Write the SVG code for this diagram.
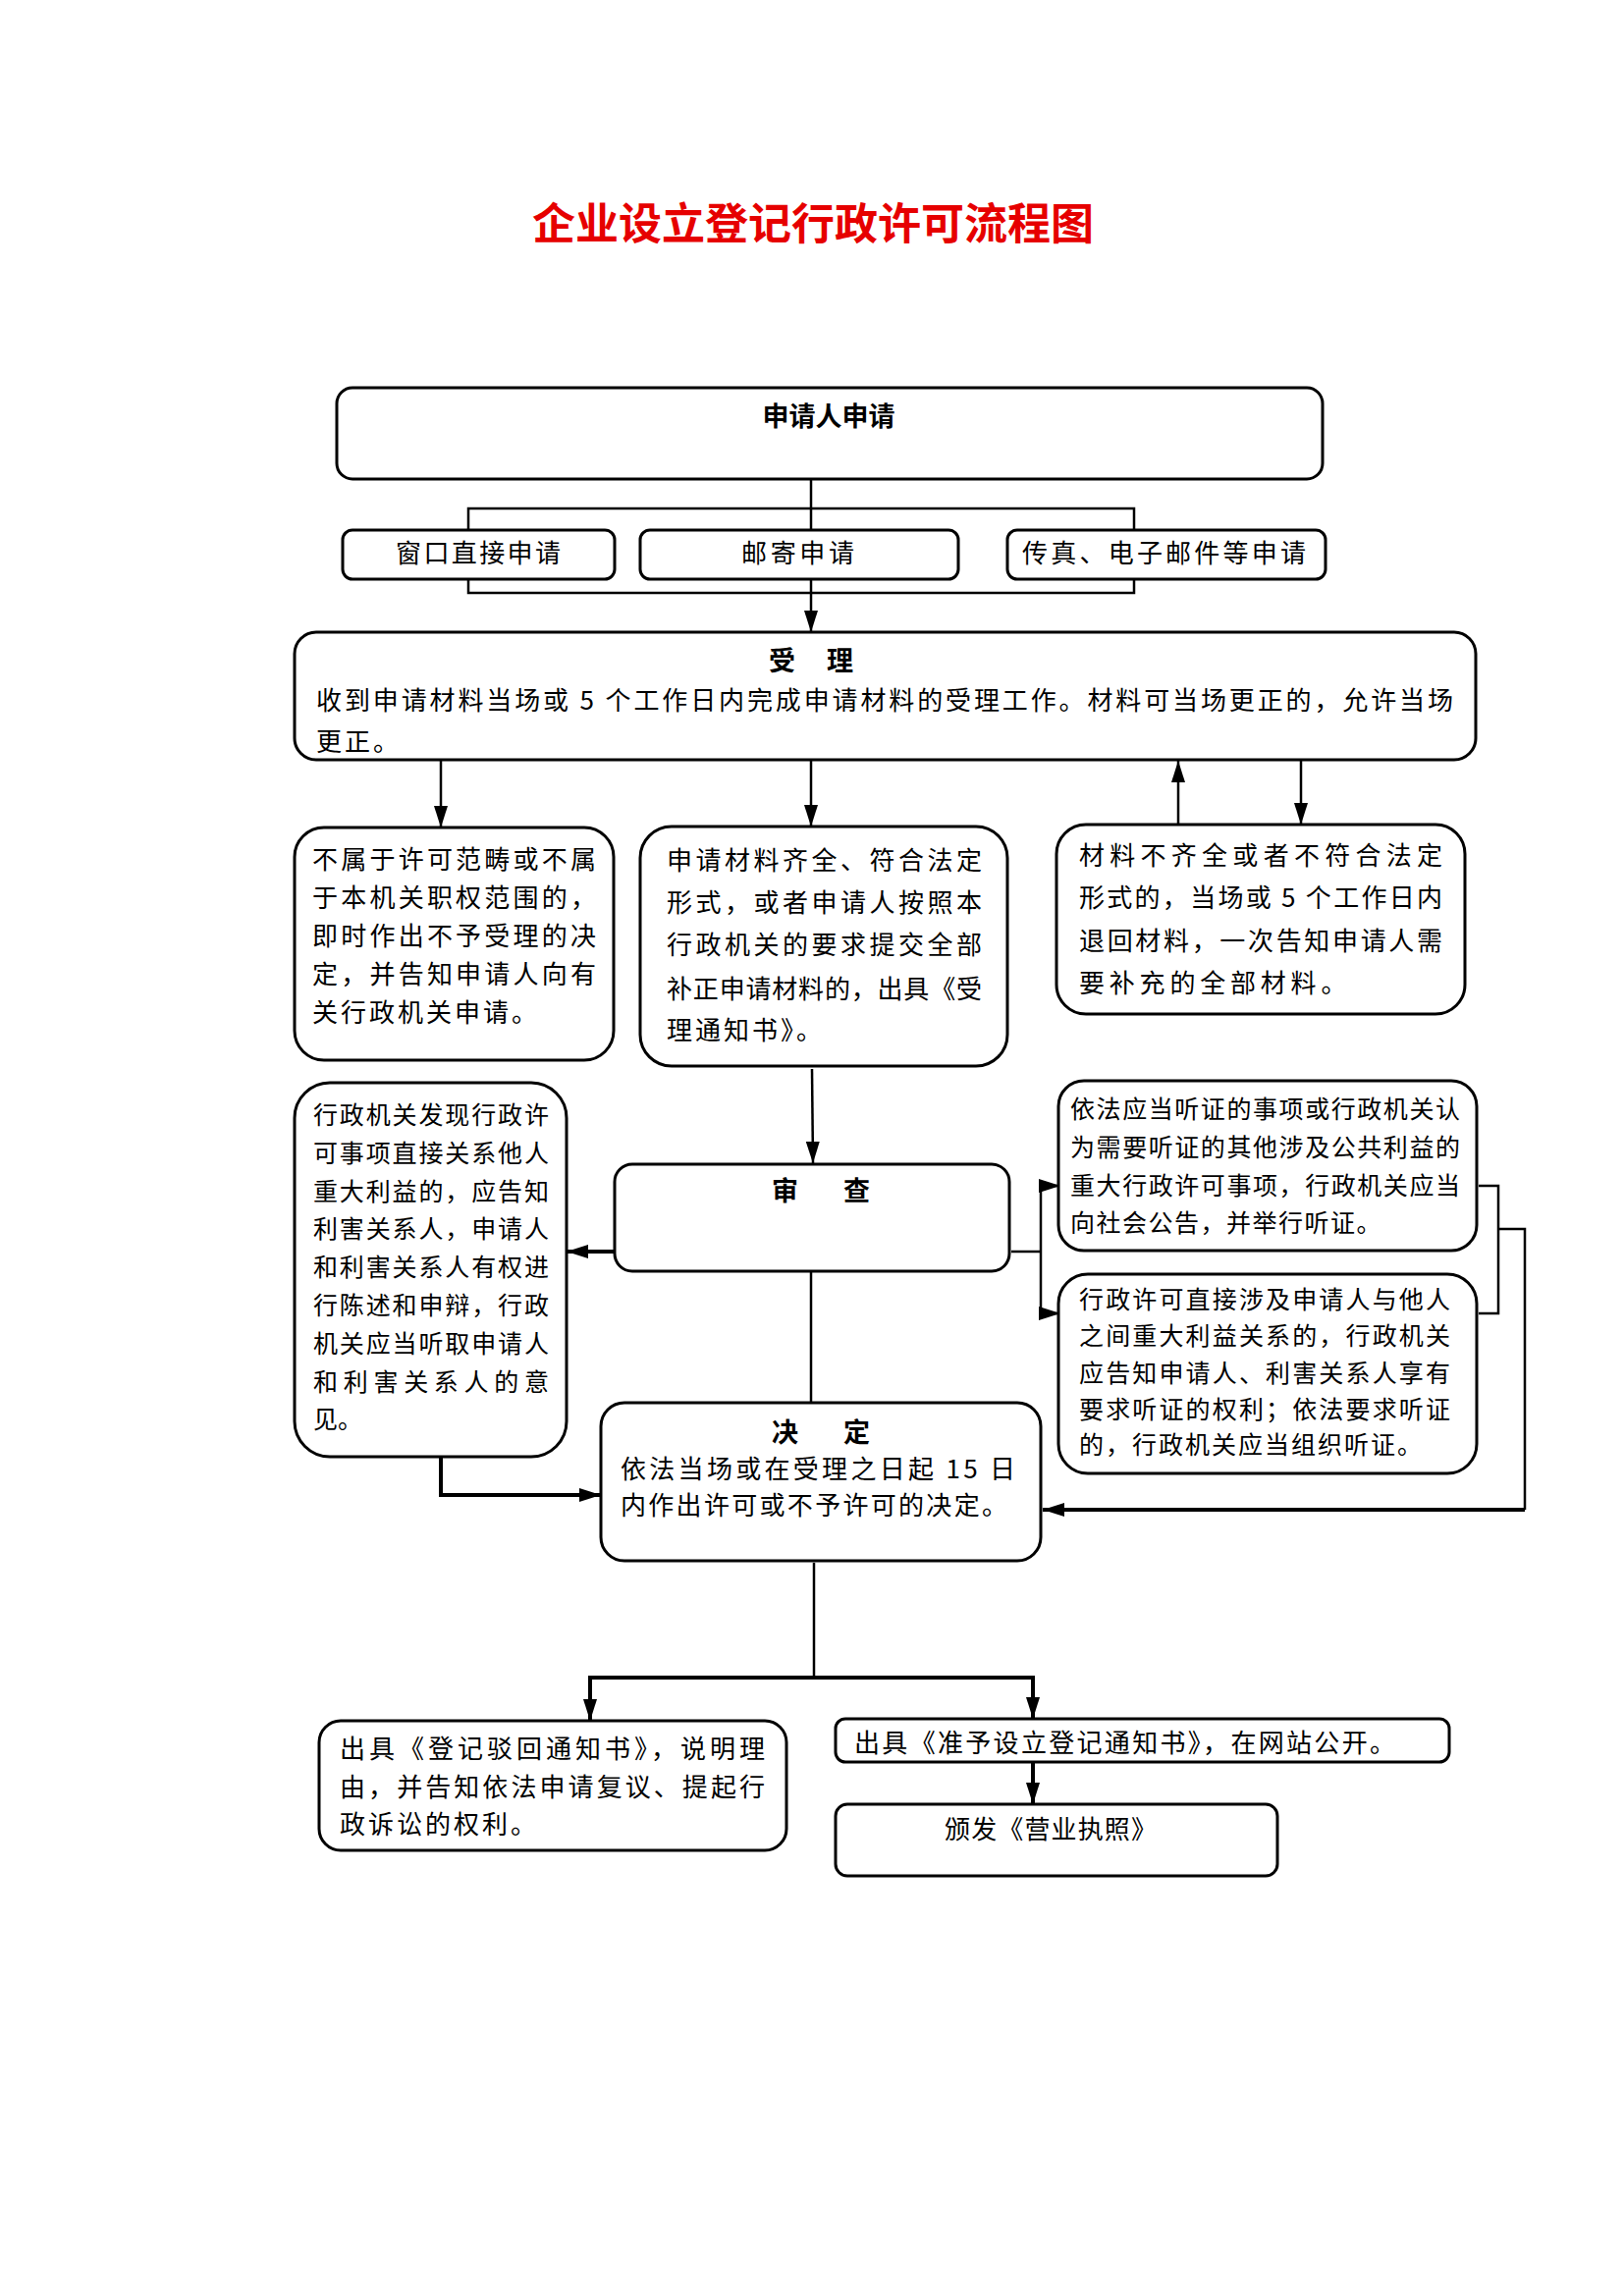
<svg xmlns="http://www.w3.org/2000/svg" width="1654" height="2339" viewBox="0 0 1654 2339">
<style>
.bg{fill:#ffffff}
.box{fill:#ffffff;stroke:#000;stroke-width:3}
.t{font-family:"Noto Sans CJK SC","Noto Sans CJK JP",sans-serif;font-size:26px;fill:#000}
.s{font-size:25px}
.h{font-family:"Noto Sans CJK SC","Noto Sans CJK JP",sans-serif;font-size:27px;font-weight:bold;fill:#000}
.title{font-family:"Noto Sans CJK SC","Noto Sans CJK JP",sans-serif;font-size:44px;font-weight:bold;fill:#e60000}
.c{fill:none;stroke:#000;stroke-width:2.5}
.k{fill:none;stroke:#000;stroke-width:4}
</style>
<defs>
<marker id="ah" markerUnits="userSpaceOnUse" viewBox="0 0 22 14" markerWidth="22" markerHeight="14" refX="22" refY="7" orient="auto">
<path d="M0,0 L22,7 L0,14 z" fill="#000"/>
</marker>
</defs>
<rect class="bg" x="0" y="0" width="1654" height="2339"/>
<text class="title" x="828" y="244" text-anchor="middle">企业设立登记行政许可流程图</text>

<g id="connectors">
<line class="c" x1="826" y1="488" x2="826" y2="644" marker-end="url(#ah)"/>
<rect class="c" x="477" y="518" width="678" height="86" stroke-width="3"/>
<line class="c" x1="449" y1="774" x2="449" y2="843" marker-end="url(#ah)" stroke-width="3"/>
<line class="c" x1="826" y1="774" x2="826" y2="842" marker-end="url(#ah)" stroke-width="3"/>
<line class="c" x1="1200" y1="840" x2="1200" y2="775" marker-end="url(#ah)" stroke-width="3"/>
<line class="c" x1="1325" y1="774" x2="1325" y2="840" marker-end="url(#ah)" stroke-width="3"/>
<line class="c" x1="827" y1="1089" x2="828" y2="1185" marker-end="url(#ah)"/>
<line class="k" x1="628" y1="1275" x2="577" y2="1275" marker-end="url(#ah)"/>
<polyline class="c" points="1030,1275 1060,1275"/>
<line class="c" x1="1060" y1="1206" x2="1060" y2="1340"/>
<line class="c" x1="1060" y1="1208" x2="1080" y2="1208" marker-end="url(#ah)"/>
<line class="c" x1="1060" y1="1338" x2="1080" y2="1338" marker-end="url(#ah)"/>
<polyline class="c" points="1506,1208 1526,1208 1526,1338 1506,1338" stroke-width="3"/>
<polyline class="c" points="1526,1252 1553,1252 1553,1538" stroke-width="3"/>
<line class="k" x1="1553" y1="1538" x2="1062" y2="1538" marker-end="url(#ah)"/>
<line class="c" x1="826" y1="1295" x2="826" y2="1429"/>
<polyline class="k" points="449,1484 449,1523"/>
<line class="k" x1="447" y1="1523" x2="612" y2="1523" marker-end="url(#ah)"/>
<line class="c" x1="829" y1="1592" x2="829" y2="1709"/>
<polyline class="k" points="601,1753 601,1709 1052,1709 1052,1751"/>
<line class="k" x1="601" y1="1715" x2="601" y2="1753" marker-end="url(#ah)"/>
<line class="k" x1="1052" y1="1715" x2="1052" y2="1751" marker-end="url(#ah)"/>
<line class="k" x1="1052" y1="1795" x2="1052" y2="1838" marker-end="url(#ah)"/>
</g>

<g id="node-apply">
<rect class="box" x="343" y="395" width="1004" height="93" rx="16"/>
<text class="h" x="844" y="434" text-anchor="middle">申请人申请</text>
</g>
<g id="node-window">
<rect class="box" x="349" y="540" width="277" height="50" rx="10"/>
<text class="t" x="403" y="573" textLength="168" lengthAdjust="spacing">窗口直接申请</text>
</g>
<g id="node-mail">
<rect class="box" x="652" y="540" width="324" height="50" rx="10"/>
<text class="t" x="755" y="573" textLength="115" lengthAdjust="spacing">邮寄申请</text>
</g>
<g id="node-fax">
<rect class="box" x="1026" y="540" width="324" height="50" rx="10"/>
<text class="t" x="1041" y="573" textLength="289" lengthAdjust="spacing">传真、电子邮件等申请</text>
</g>

<g id="node-accept">
<rect class="box" x="300" y="644" width="1203" height="130" rx="22"/>
<text class="h" x="783" y="683" textLength="86" lengthAdjust="spacing">受　理</text>
<text class="t" x="322" y="723" textLength="1158" lengthAdjust="spacing">收到申请材料当场或 5 个工作日内完成申请材料的受理工作。材料可当场更正的，允许当场</text>
<text class="t" x="322" y="765" letter-spacing="3">更正。</text>
</g>

<g id="node-reject-scope">
<rect class="box" x="300" y="843" width="325" height="237" rx="30"/>
<text class="t" x="318" y="885" textLength="289" lengthAdjust="spacing">不属于许可范畴或不属</text>
<text class="t" x="318" y="924" textLength="289" lengthAdjust="spacing">于本机关职权范围的，</text>
<text class="t" x="318" y="963" textLength="289" lengthAdjust="spacing">即时作出不予受理的决</text>
<text class="t" x="318" y="1002" textLength="289" lengthAdjust="spacing">定，并告知申请人向有</text>
<text class="t" x="318" y="1041" letter-spacing="3">关行政机关申请。</text>
</g>

<g id="node-complete">
<rect class="box" x="652" y="842" width="374" height="244" rx="32"/>
<text class="t" x="679" y="886" textLength="321" lengthAdjust="spacing">申请材料齐全、符合法定</text>
<text class="t" x="679" y="929" textLength="321" lengthAdjust="spacing">形式，或者申请人按照本</text>
<text class="t" x="679" y="972" textLength="321" lengthAdjust="spacing">行政机关的要求提交全部</text>
<text class="t" x="679" y="1017" textLength="321" lengthAdjust="spacing">补正申请材料的，出具《受</text>
<text class="t" x="679" y="1059" letter-spacing="3">理通知书》。</text>
</g>

<g id="node-incomplete">
<rect class="box" x="1076" y="840" width="416" height="193" rx="30"/>
<text class="t" x="1099" y="881" textLength="370" lengthAdjust="spacing">材料不齐全或者不符合法定</text>
<text class="t" x="1099" y="924" textLength="370" lengthAdjust="spacing">形式的，当场或 5 个工作日内</text>
<text class="t" x="1099" y="968" textLength="370" lengthAdjust="spacing">退回材料，一次告知申请人需</text>
<text class="t" x="1099" y="1011" letter-spacing="4.8">要补充的全部材料。</text>
</g>

<g id="node-stakeholder">
<rect class="box" x="300" y="1103" width="277" height="381" rx="36"/>
<text class="t s" x="319" y="1145" textLength="240" lengthAdjust="spacing">行政机关发现行政许</text>
<text class="t s" x="319" y="1184" textLength="240" lengthAdjust="spacing">可事项直接关系他人</text>
<text class="t s" x="319" y="1223" textLength="240" lengthAdjust="spacing">重大利益的，应告知</text>
<text class="t s" x="319" y="1261" textLength="240" lengthAdjust="spacing">利害关系人，申请人</text>
<text class="t s" x="319" y="1300" textLength="240" lengthAdjust="spacing">和利害关系人有权进</text>
<text class="t s" x="319" y="1339" textLength="240" lengthAdjust="spacing">行陈述和申辩，行政</text>
<text class="t s" x="319" y="1378" textLength="240" lengthAdjust="spacing">机关应当听取申请人</text>
<text class="t s" x="319" y="1417" textLength="240" lengthAdjust="spacing">和利害关系人的意</text>
<text class="t s" x="319" y="1455">见。</text>
</g>

<g id="node-review">
<rect class="box" x="626" y="1186" width="402" height="109" rx="18"/>
<text class="h" x="786" y="1223" textLength="100" lengthAdjust="spacing">审　查</text>
</g>

<g id="node-hearing-public">
<rect class="box" x="1078" y="1101" width="426" height="173" rx="26"/>
<text class="t s" x="1090" y="1139" textLength="397" lengthAdjust="spacing">依法应当听证的事项或行政机关认</text>
<text class="t s" x="1090" y="1178" textLength="397" lengthAdjust="spacing">为需要听证的其他涉及公共利益的</text>
<text class="t s" x="1090" y="1217" textLength="397" lengthAdjust="spacing">重大行政许可事项，行政机关应当</text>
<text class="t s" x="1090" y="1255" letter-spacing="1.5">向社会公告，并举行听证。</text>
</g>

<g id="node-hearing-party">
<rect class="box" x="1078" y="1298" width="426" height="203" rx="30"/>
<text class="t s" x="1099" y="1333" textLength="378" lengthAdjust="spacing">行政许可直接涉及申请人与他人</text>
<text class="t s" x="1099" y="1370" textLength="378" lengthAdjust="spacing">之间重大利益关系的，行政机关</text>
<text class="t s" x="1099" y="1408" textLength="378" lengthAdjust="spacing">应告知申请人、利害关系人享有</text>
<text class="t s" x="1099" y="1445" textLength="378" lengthAdjust="spacing">要求听证的权利；依法要求听证</text>
<text class="t s" x="1099" y="1481" letter-spacing="2">的，行政机关应当组织听证。</text>
</g>

<g id="node-decision">
<rect class="box" x="612" y="1429" width="448" height="161" rx="24"/>
<text class="h" x="786" y="1469" textLength="100" lengthAdjust="spacing">决　定</text>
<text class="t" x="632" y="1506" textLength="402" lengthAdjust="spacing">依法当场或在受理之日起 15 日</text>
<text class="t" x="632" y="1543" textLength="394" lengthAdjust="spacing">内作出许可或不予许可的决定。</text>
</g>

<g id="node-reject">
<rect class="box" x="325" y="1753" width="476" height="132" rx="22"/>
<text class="t" x="346" y="1791" textLength="433" lengthAdjust="spacing">出具《登记驳回通知书》，说明理</text>
<text class="t" x="346" y="1830" textLength="433" lengthAdjust="spacing">由，并告知依法申请复议、提起行</text>
<text class="t" x="346" y="1868" letter-spacing="3">政诉讼的权利。</text>
</g>

<g id="node-approve">
<rect class="box" x="851" y="1751" width="625" height="44" rx="10"/>
<text class="t" x="870" y="1785" textLength="551" lengthAdjust="spacing">出具《准予设立登记通知书》，在网站公开。</text>
</g>

<g id="node-license">
<rect class="box" x="851" y="1838" width="450" height="73" rx="12"/>
<text class="t" x="962" y="1873" textLength="216" lengthAdjust="spacing">颁发《营业执照》</text>
</g>
</svg>
